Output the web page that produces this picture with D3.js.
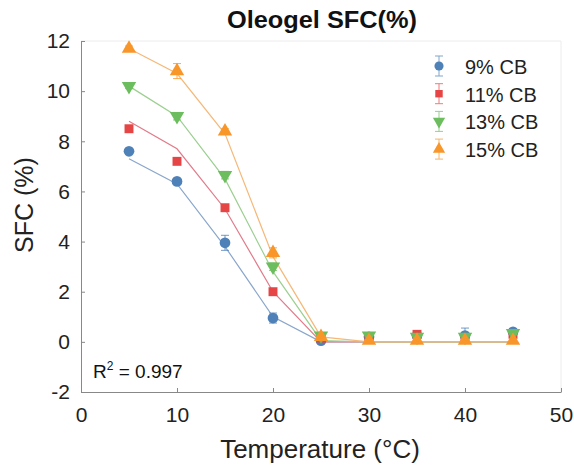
<!DOCTYPE html>
<html>
<head>
<meta charset="utf-8">
<script src="https://cdn.jsdelivr.net/npm/d3@7"></script>
<style>
body { margin: 0; background: #fff; }
text { font-family: "Liberation Sans", Arial, sans-serif; }
</style>
</head>
<body>
<script>
// chart values
var temps = [5, 10, 15, 20, 25, 30, 35, 40, 45];
var seriesNames = ["9% CB", "11% CB", "13% CB", "15% CB"];
var measured = [
  [7.6, 6.4, 3.95, 0.95, 0.05, 0.2, 0.25, 0.25, 0.4],
  [8.5, 7.2, 5.35, 2.0, 0.15, 0.1, 0.3, 0.1, 0.3],
  [10.2, 9.0, 6.65, 3.0, 0.25, 0.25, 0.2, 0.2, 0.35],
  [11.7, 10.8, 8.4, 3.55, 0.2, 0.05, 0.05, 0.05, 0.05]
];
var errors = [
  [0.1, 0.1, 0.3, 0.2, 0.05, 0.05, 0.1, 0.3, 0.1],
  [0.1, 0.1, 0.1, 0.1, 0.05, 0.05, 0.1, 0.1, 0.1],
  [0.1, 0.15, 0.15, 0.15, 0.05, 0.05, 0.05, 0.1, 0.05],
  [0.1, 0.3, 0.1, 0.2, 0.05, 0.05, 0.05, 0.05, 0.05]
];
var fitted = [
  [7.3, 6.3, 3.8, 1.0, 0, 0, 0, 0, 0],
  [8.8, 7.7, 5.3, 2.0, 0, 0, 0, 0, 0],
  [10.2, 9.0, 6.5, 2.8, 0.05, 0, 0, 0, 0],
  [11.7, 10.7, 8.3, 3.4, 0.2, 0, 0, 0, 0]
];
var xTicks = [0, 10, 20, 30, 40, 50];
var yTicks = [-2, 0, 2, 4, 6, 8, 10, 12];

var colors = ["#4f81b9", "#e64545", "#6cbd5e", "#f8962a"];
var lineColors = ["#8aa6cc", "#e27a8a", "#9bcf90", "#f6b878"];
var symbols = [d3.symbolCircle, d3.symbolSquare, "down", d3.symbolTriangle];

var w = 574, h = 467;
var margin = {top: 41, right: 13, bottom: 75, left: 81};

var svg = d3.select("body").append("svg")
  .attr("width", w).attr("height", h);

var x = d3.scaleLinear().domain([0, 50]).range([margin.left, w - margin.right]);
var y = d3.scaleLinear().domain([-2, 12]).range([h - margin.bottom, margin.top]);

// light frame on top and right
svg.append("path")
  .attr("d", "M" + x(0) + "," + y(12) + "H" + x(50) + "V" + y(-2))
  .attr("fill", "none").attr("stroke", "#ececec");

var xAxis = svg.append("g")
  .attr("transform", "translate(0," + y(-2) + ")")
  .call(d3.axisBottom(x).tickValues(xTicks).tickFormat(String)
    .tickSizeInner(-4).tickSizeOuter(0).tickPadding(15));
var yAxis = svg.append("g")
  .attr("transform", "translate(" + x(0) + ",0)")
  .call(d3.axisLeft(y).tickValues(yTicks).tickFormat(String)
    .tickSizeInner(-4).tickSizeOuter(0).tickPadding(11));

[xAxis, yAxis].forEach(function(g) {
  g.select(".domain").attr("stroke", "#888");
  g.selectAll(".tick line").attr("stroke", "#888");
  g.selectAll(".tick text").attr("font-size", 21).attr("fill", "#222")
    .style("font-family", "Liberation Sans, Arial, sans-serif");
});

function symPath(s, size) {
  if (s === "down") {
    return d3.symbol().type(d3.symbolTriangle).size(size)();
  }
  return d3.symbol().type(s).size(size)();
}

var line = d3.line()
  .x(function(d, i) { return x(temps[i]); })
  .y(function(d) { return y(d); });

// fitted lines
fitted.forEach(function(f, k) {
  svg.append("path")
    .datum(f)
    .attr("d", line)
    .attr("fill", "none")
    .attr("stroke", lineColors[k])
    .attr("stroke-width", 1.2);
});

// measured points with error bars
measured.forEach(function(m, k) {
  var g = svg.append("g");
  var pts = m.map(function(v, i) { return {t: temps[i], v: v, e: errors[k][i]}; });
  g.selectAll(".err").data(pts).enter().append("path")
    .attr("d", function(d) {
      var x0 = x(d.t), y1 = y(d.v + d.e), y2 = y(d.v - d.e);
      return "M" + (x0 - 4) + "," + y1 + "H" + (x0 + 4) + "M" + x0 + "," + y1 + "V" + y2 + "M" + (x0 - 4) + "," + y2 + "H" + (x0 + 4);
    })
    .attr("stroke", colors[k]).attr("stroke-width", 1).attr("fill", "none").attr("opacity", 0.8);
  g.selectAll(".pt").data(pts).enter().append("path")
    .attr("d", symPath(symbols[k], k === 1 ? 80 : 90))
    .attr("transform", function(d) {
      return "translate(" + x(d.t) + "," + y(d.v) + ")" + (symbols[k] === "down" ? " rotate(180)" : "");
    })
    .attr("fill", colors[k]);
});

// legend
var legend = svg.append("g");
seriesNames.forEach(function(name, k) {
  var ly = 66 + k * 27.7, lx = 439;
  legend.append("path")
    .attr("d", "M" + (lx - 4) + "," + (ly - 10) + "H" + (lx + 4) + "M" + lx + "," + (ly - 10) + "V" + (ly + 10) + "M" + (lx - 4) + "," + (ly + 10) + "H" + (lx + 4))
    .attr("stroke", colors[k]).attr("stroke-width", 1).attr("opacity", 0.7);
  legend.append("path")
    .attr("d", symPath(symbols[k], k === 1 ? 55 : 65))
    .attr("transform", "translate(" + lx + "," + ly + ")" + (symbols[k] === "down" ? " rotate(180)" : ""))
    .attr("fill", colors[k]);
  legend.append("text")
    .attr("x", 465).attr("y", ly + 8)
    .attr("font-size", 20).attr("fill", "#222")
    .text(name);
});

// title
svg.append("text")
  .attr("x", 322).attr("y", 28)
  .attr("text-anchor", "middle")
  .attr("font-size", 23).attr("font-weight", "bold").attr("fill", "#111")
  .attr("textLength", 190).attr("lengthAdjust", "spacingAndGlyphs")
  .text("Oleogel SFC(%)");

// axis titles
svg.append("text")
  .attr("x", 320).attr("y", 458)
  .attr("text-anchor", "middle")
  .attr("font-size", 26).attr("fill", "#222")
  .text("Temperature (°C)");

svg.append("text")
  .attr("transform", "translate(33,205) rotate(-90)")
  .attr("text-anchor", "middle")
  .attr("font-size", 25).attr("fill", "#222")
  .text("SFC (%)");

// R squared
var r2 = svg.append("text")
  .attr("x", 93).attr("y", 378)
  .attr("font-size", 19).attr("fill", "#111");
r2.append("tspan").text("R");
r2.append("tspan").attr("font-size", 12).attr("dy", -8).text("2");
r2.append("tspan").attr("dy", 8).text(" = 0.997");
</script>
</body>
</html>
